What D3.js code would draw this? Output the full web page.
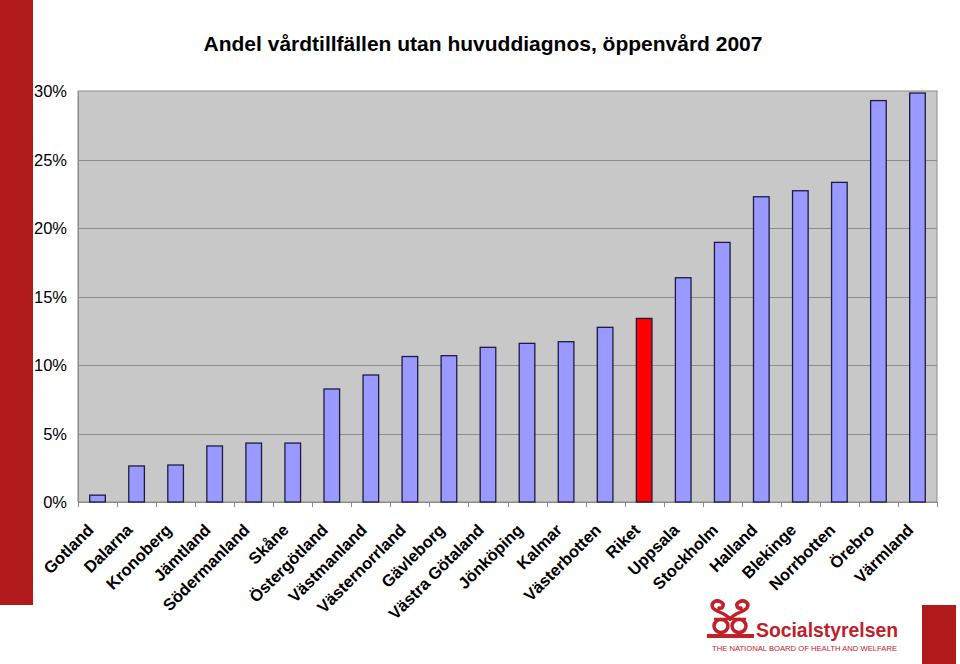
<!DOCTYPE html>
<html>
<head>
<meta charset="utf-8">
<script src="https://cdn.jsdelivr.net/npm/d3@7"></script>
<style>
  html, body { margin: 0; padding: 0; background: #fff; }
  svg { display: block; }
</style>
</head>
<body>
<svg id="chart" width="960" height="664"></svg>
<script>
const title = "Andel vårdtillfällen utan huvuddiagnos, öppenvård 2007";
const categories = ["Gotland","Dalarna","Kronoberg","Jämtland","Södermanland","Skåne","Östergötland","Västmanland","Västernorrland","Gävleborg","Västra Götaland","Jönköping","Kalmar","Västerbotten","Riket","Uppsala","Stockholm","Halland","Blekinge","Norrbotten","Örebro","Värmland"];
const values = [0.005,0.0263,0.027,0.0409,0.043,0.043,0.0825,0.0927,0.1062,0.1068,0.1129,0.1158,0.117,0.1275,0.134,0.1637,0.1895,0.2228,0.2272,0.2333,0.293,0.2985];
const highlight = ["Riket"];
const yTicks = [0,0.05,0.10,0.15,0.20,0.25,0.30];

const svg = d3.select("#chart");
const plot = {left: 78, right: 937, top: 91, bottom: 502};
const font = "Liberation Sans, Arial, sans-serif";

// decorative side bars
svg.append("rect").attr("x",0).attr("y",0).attr("width",33).attr("height",605).attr("fill","#b01a1a");
svg.append("rect").attr("x",922).attr("y",605).attr("width",34).attr("height",59).attr("fill","#b01a1a");

const x = d3.scaleBand().domain(categories).range([plot.left, plot.right]).paddingInner(0.6).paddingOuter(0.3);
const y = d3.scaleLinear().domain([0,0.30]).range([plot.bottom, plot.top]);

// plot background
svg.append("rect").attr("x",plot.left).attr("y",plot.top)
  .attr("width",plot.right-plot.left).attr("height",plot.bottom-plot.top)
  .attr("fill","#c8c8c8").attr("stroke","#8c8c8c").attr("stroke-width",1);

// gridlines
svg.append("g").selectAll("line").data(yTicks.filter(t=>t>0 && t<0.30)).join("line")
  .attr("x1",plot.left).attr("x2",plot.right)
  .attr("y1",d=>Math.round(y(d))+0.5).attr("y2",d=>Math.round(y(d))+0.5)
  .attr("stroke","#8c8c8c").attr("stroke-width",1);

// y axis
const yAxis = d3.axisLeft(y).tickValues(yTicks).tickFormat(d3.format(".0%")).tickSize(0).tickPadding(11);
const gy = svg.append("g").attr("transform",`translate(${plot.left},0)`).call(yAxis);
gy.select(".domain").attr("stroke","#8c8c8c");
gy.selectAll("text").attr("font-family",font).attr("font-size",16.5).attr("fill","#000").attr("dy","0.35em");

// x axis line and tick marks at category boundaries
const bounds = d3.range(categories.length+1).map(i => plot.left + i*(plot.right-plot.left)/categories.length);
svg.append("line").attr("x1",plot.left).attr("x2",plot.right).attr("y1",plot.bottom+0.5).attr("y2",plot.bottom+0.5).attr("stroke","#8c8c8c");
svg.append("g").selectAll("line").data(bounds).join("line")
  .attr("x1",d=>Math.round(d)+0.5).attr("x2",d=>Math.round(d)+0.5)
  .attr("y1",plot.bottom).attr("y2",plot.bottom+5).attr("stroke","#8c8c8c");

// bars
svg.append("g").selectAll("rect").data(categories).join("rect")
  .attr("x",d=>x(d)).attr("width",x.bandwidth())
  .attr("y",(d,i)=>y(values[i])).attr("height",(d,i)=>plot.bottom-y(values[i]))
  .attr("fill",d=>highlight.includes(d)?"#ff0000":"#9999ff")
  .attr("stroke","#1c1c40").attr("stroke-width",1.3);

// x labels
svg.append("g").selectAll("text").data(categories).join("text")
  .attr("transform",d=>`translate(${x(d)+x.bandwidth()/2-3},531) rotate(-45)`)
  .attr("text-anchor","end")
  .attr("font-family",font).attr("font-weight","bold").attr("font-size",16.5)
  .attr("fill","#000").text(d=>d);

// title
svg.append("text").attr("x",483).attr("y",51).attr("text-anchor","middle")
  .attr("font-family",font).attr("font-weight","bold").attr("font-size",21)
  .attr("fill","#000").text(title);

// logo
const logo = svg.append("g");
const lr = "#c0202a";
logo.append("path")
  .attr("d","M730,619 C726,613 716,612 713,608 C710,603 716,599 721,602 C725,604 723,609 719,608")
  .attr("fill","none").attr("stroke",lr).attr("stroke-width",3.5).attr("stroke-linecap","round");
logo.append("path")
  .attr("d","M730,619 C734,613 744,612 747,608 C750,603 744,599 739,602 C735,604 737,609 741,608")
  .attr("fill","none").attr("stroke",lr).attr("stroke-width",3.5).attr("stroke-linecap","round");
logo.append("ellipse").attr("cx",721).attr("cy",626).attr("rx",7).attr("ry",6.5)
  .attr("fill","none").attr("stroke",lr).attr("stroke-width",3.5);
logo.append("ellipse").attr("cx",739).attr("cy",626).attr("rx",7).attr("ry",6.5)
  .attr("fill","none").attr("stroke",lr).attr("stroke-width",3.5);
logo.append("path").attr("d","M714,619 L730,619 L746,619").attr("stroke",lr).attr("stroke-width",2.5).attr("fill","none");
logo.append("rect").attr("x",707).attr("y",634).attr("width",47).attr("height",4).attr("fill",lr);
logo.append("text").attr("x",756).attr("y",637)
  .attr("font-family",font).attr("font-weight","bold").attr("font-size",21)
  .attr("textLength",142).attr("lengthAdjust","spacingAndGlyphs")
  .attr("fill",lr).text("Socialstyrelsen");
logo.append("text").attr("x",712).attr("y",650.5)
  .attr("font-family",font).attr("font-size",7.5)
  .attr("textLength",185).attr("lengthAdjust","spacingAndGlyphs")
  .attr("fill",lr).text("THE NATIONAL BOARD OF HEALTH AND WELFARE");
</script>
</body>
</html>
